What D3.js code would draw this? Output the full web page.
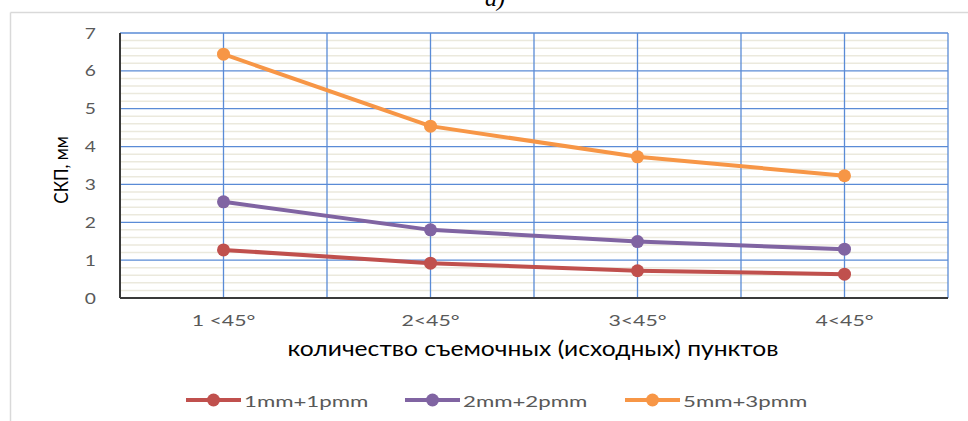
<!DOCTYPE html>
<html>
<head>
<meta charset="utf-8">
<script src="https://cdn.jsdelivr.net/npm/d3@7"></script>
<style>
html,body{margin:0;padding:0;background:#fff;}
svg{display:block;}
</style>
</head>
<body>
<script>
const categories = ["1 <45°", "2<45°", "3<45°", "4<45°"];
const seriesNames = ["1mm+1pmm", "2mm+2pmm", "5mm+3pmm"];
const series1 = [1.27, 0.92, 0.72, 0.63];
const series2 = [2.54, 1.80, 1.49, 1.29];
const series3 = [6.44, 4.54, 3.73, 3.23];
const yTicks = [0, 1, 2, 3, 4, 5, 6, 7];
const colors = ["#c0504d", "#8064a2", "#f79646"];
const yTitle = "СКП, мм";
const xTitle = "количество съемочных (исходных) пунктов";
const caption = "а)";

const W = 968, H = 421;
const svg = d3.select("body").append("svg").attr("width", W).attr("height", H);
const font = "Lato, 'Open Sans', sans-serif";

// frame
svg.append("line").attr("x1", 10.5).attr("x2", W).attr("y1", 12.5).attr("y2", 12.5).attr("stroke", "#d9d9d9").attr("stroke-width", 1.5);
svg.append("line").attr("x1", 10.5).attr("x2", 10.5).attr("y1", 12.5).attr("y2", H).attr("stroke", "#d9d9d9").attr("stroke-width", 1.5);
svg.append("text").attr("x", 495).attr("y", 6).attr("text-anchor", "middle")
  .attr("font-family", "'Liberation Serif', serif").attr("font-style", "italic").attr("font-size", 24).attr("fill", "#000").text(caption);

const L = 120, R = 948, T = 33, B = 298;
const x = d3.scaleBand().domain(categories).range([L, R]).padding(0);
const y = d3.scaleLinear().domain([0, 7]).range([B, T]);

// minor horizontal gridlines
const minor = d3.range(0, 7.001, 0.2).filter(v => Math.abs(v - Math.round(v)) > 1e-6);
svg.append("g").selectAll("line").data(minor).join("line")
  .attr("x1", L).attr("x2", R).attr("y1", d => y(d)).attr("y2", d => y(d))
  .attr("stroke", "#ebe9dd").attr("stroke-width", 1.5);

// major horizontal gridlines
svg.append("g").selectAll("line").data(yTicks.filter(v => v > 0)).join("line")
  .attr("x1", L).attr("x2", R).attr("y1", d => y(d)).attr("y2", d => y(d))
  .attr("stroke", "#5a8bd6").attr("stroke-width", 1.3);

// vertical gridlines: band boundaries and centers
const vx = [];
categories.forEach(c => { vx.push(x(c)); vx.push(x(c) + x.bandwidth() / 2); });
vx.push(R);
svg.append("g").selectAll("line").data(vx.filter(v => v > L)).join("line")
  .attr("x1", d => d).attr("x2", d => d).attr("y1", T).attr("y2", B)
  .attr("stroke", "#5a8bd6").attr("stroke-width", 1.3);

// axes lines
svg.append("line").attr("x1", L).attr("x2", L).attr("y1", T).attr("y2", B).attr("stroke", "#3a3a3a").attr("stroke-width", 2);
svg.append("line").attr("x1", L).attr("x2", R).attr("y1", B).attr("y2", B).attr("stroke", "#3a3a3a").attr("stroke-width", 2);

// y axis labels
const yAxis = d3.axisLeft(y).tickValues(yTicks).tickFormat(d3.format("d")).tickSize(0).tickPadding(0);
const gy = svg.append("g").attr("transform", `translate(${L},0)`).call(yAxis);
gy.select(".domain").remove();
gy.selectAll("text").attr("x", 0).attr("transform", "translate(-24,0) scale(1.2,1)")
  .attr("font-family", font).attr("font-size", 16).attr("fill", "#595959");

// x axis labels
const xAxis = d3.axisBottom(x).tickSize(0).tickPadding(0);
const gx = svg.append("g").attr("transform", `translate(0,${B})`).call(xAxis);
gx.select(".domain").remove();
gx.selectAll("text").attr("y", 0).attr("dy", null).attr("transform", "translate(0,28) scale(1.42,1)")
  .attr("font-family", font).attr("font-size", 15).attr("fill", "#595959");

// titles
svg.append("text").attr("transform", `translate(68,170) scale(1.15,1) rotate(-90)`).attr("text-anchor", "middle")
  .attr("font-family", font).attr("font-size", 17).attr("fill", "#000").text(yTitle);
svg.append("text").attr("transform", `translate(533,356) scale(1.12,1)`).attr("text-anchor", "middle")
  .attr("font-family", font).attr("font-size", 22).attr("fill", "#000").text(xTitle);

// series
const allSeries = [series1, series2, series3];
const cx = c => x(c) + x.bandwidth() / 2;
const line = d3.line().x((d, i) => cx(categories[i])).y(d => y(d));
allSeries.forEach((s, k) => {
  svg.append("path").datum(s).attr("d", line).attr("fill", "none")
    .attr("stroke", colors[k]).attr("stroke-width", 4).attr("stroke-linejoin", "round");
  svg.append("g").selectAll("circle").data(s).join("circle")
    .attr("cx", (d, i) => cx(categories[i])).attr("cy", d => y(d)).attr("r", 6.5).attr("fill", colors[k]);
});

// legend
const legX = [186, 405, 625];
const lg = svg.append("g");
seriesNames.forEach((n, k) => {
  const g = lg.append("g").attr("transform", `translate(${legX[k]},400)`);
  g.append("line").attr("x1", 0).attr("x2", 55).attr("y1", 0).attr("y2", 0).attr("stroke", colors[k]).attr("stroke-width", 4);
  g.append("circle").attr("cx", 27.5).attr("cy", 0).attr("r", 6.5).attr("fill", colors[k]);
  g.append("text").attr("transform", "translate(58,7) scale(1.39,1)").attr("font-family", font).attr("font-size", 16).attr("fill", "#595959").text(n);
});
</script>
</body>
</html>
